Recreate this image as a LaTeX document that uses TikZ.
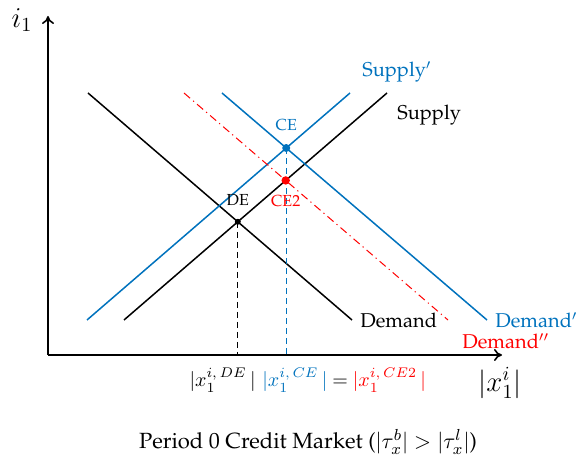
\documentclass[tikz,border=0pt]{standalone}
\usepackage[T1]{fontenc}
\usepackage{amsmath}
\renewcommand{\rmdefault}{ppl}
\usetikzlibrary{arrows.meta,positioning,calc}
\definecolor{MBlue}{RGB}{0,114,189}
\definecolor{MRed} {RGB}{255,0,0}

\begin{document}
\begin{tikzpicture}[x=0.5pt,y=-0.5pt,
  axis/.style={-{To[length=4pt,width=6pt]},line width=0.8pt,draw=black},
  curve/.style={line width=0.75pt},
  shifted/.style={line width=0.5pt,draw=MRed,
    dash pattern=on 4pt off 2pt on 0.6pt off 2pt},
  drop/.style={line width=0.5pt,dash pattern=on 3pt off 2pt},
  dot/.style={circle,fill,inner sep=0pt,minimum size=#1},
  lbl/.style={font=\normalsize,inner sep=0pt},
  small/.style={font=\footnotesize,inner sep=0pt},
  node distance=2pt
]
\useasboundingbox (0,0) rectangle (584,464);
% axes
\coordinate (o) at (48,355);
\coordinate (ytop) at (48,16);
\coordinate (xend) at (502,355);
\draw[axis](o)--(ytop);
\draw[axis](o)--(xend);
\node[font=\Large](ylab) at (22,20){$i_1$};
\node[font=\Large](xlab) at (500,383){$|x^i_1|$};
% curve end points
\coordinate (d0) at (88,93);   \coordinate (d1) at (352,320);
\coordinate (s0) at (124,320); \coordinate (s1) at (387,93);
\coordinate (sp0) at (87,320); \coordinate (sp1) at (350,93);
\coordinate (dp0) at (222,93); \coordinate (dp1) at (487,320);
\coordinate (dpp0) at (184,93);\coordinate (dpp1) at (448,320);
% curves
\draw[curve](d0)--(d1);
\draw[curve](s0)--(s1);
\draw[curve,MBlue](sp0)--(sp1);
\draw[curve,MBlue](dp0)--(dp1);
\draw[shifted](dpp0)--(dpp1);
% equilibria
\coordinate (de) at (intersection of d0--d1 and s0--s1);
\coordinate (ce) at (intersection of sp0--sp1 and dp0--dp1);
\coordinate (ce2) at (intersection of dpp0--dpp1 and s0--s1);
\draw[drop](de)--(de |- o);
\draw[drop,MBlue](ce)--(ce |- o);
\node[dot=3pt](nde) at (de){};
\node[dot=4pt,MBlue](nce) at (ce){};
\node[dot=4.2pt,MRed](nce2) at (ce2){};
\node[small,above=6pt of nde](lde){DE};
\node[small,MBlue,above=6pt of nce](lce){CE};
\node[small,MRed,below=5pt of nce2](lce2){CE2};
% curve labels
\node[lbl,right=4pt of d1](ld){Demand};
\node[lbl,MBlue,right=4pt of dp1](ldp){Demand$'$};
\node[lbl,MRed,below right=6.5pt and 7pt of dpp1](ldpp){Demand$''$};
\node[lbl,below right=6pt and 5pt of s1](ls){Supply};
\node[lbl,MBlue,above right=5pt and 6pt of sp1](lsp){Supply$'$};
% quantities
\node[lbl,anchor=east](qde) at (256,380){$|x^{i,\,DE}_1\,|$};
\node[lbl,anchor=west](qce) at (262,380){\color{MBlue}$|x^{i,\,CE}_1\,|$
  \color{black}$=$ \color{MRed}$|x^{i,\,CE2}_1\,|$};
% caption
\node[lbl,font=\fontsize{11}{13}\selectfont](cap) at (308,442)
  {Period 0 Credit Market ($|\tau^b_x|>|\tau^l_x|$)};
\end{tikzpicture}
\end{document}
